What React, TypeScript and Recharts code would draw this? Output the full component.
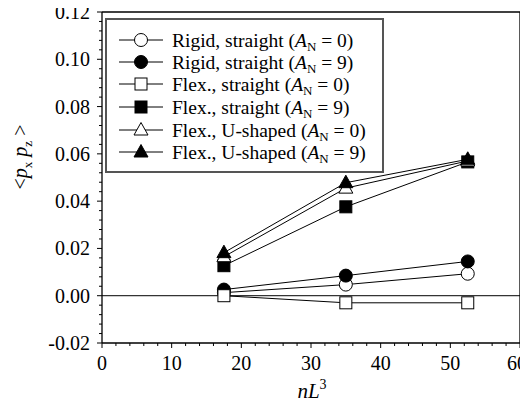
import { Customized, Line, LineChart, ReferenceLine, XAxis, YAxis } from "recharts";

const nL3 = [17.5, 35, 52.5];
const rigidStraightA0 = [0.0013, 0.0047, 0.0093];
const rigidStraightA9 = [0.0026, 0.0085, 0.0145];
const flexStraightA0 = [0.0, -0.003, -0.003];
const flexStraightA9 = [0.0127, 0.0376, 0.0566];
const flexUShapedA0 = [0.0165, 0.0455, 0.057];
const flexUShapedA9 = [0.0182, 0.0478, 0.0577];

const xMajorTicks = [0, 10, 20, 30, 40, 50, 60];
const yMajorTicks = [-0.02, 0.0, 0.02, 0.04, 0.06, 0.08, 0.1, 0.12];

const FONT = "'Liberation Serif', 'Times New Roman', serif";

// minor ticks: 5 subdivisions per major step
const xTicks = Array.from({ length: 31 }, (_, i) => i * 2);
const yTicks = Array.from({ length: 36 }, (_, i) => Math.round((-0.02 + i * 0.004) * 1000) / 1000);

type Marker = "circle" | "square" | "triangle";

const series: { key: string; values: number[]; marker: Marker; filled: boolean; label: string; an: string }[] = [
    { key: "rA0", values: rigidStraightA0, marker: "circle", filled: false, label: "Rigid, straight (", an: "0" },
    { key: "rA9", values: rigidStraightA9, marker: "circle", filled: true, label: "Rigid, straight (", an: "9" },
    { key: "fA0", values: flexStraightA0, marker: "square", filled: false, label: "Flex., straight (", an: "0" },
    { key: "fA9", values: flexStraightA9, marker: "square", filled: true, label: "Flex., straight (", an: "9" },
    { key: "uA0", values: flexUShapedA0, marker: "triangle", filled: false, label: "Flex., U-shaped (", an: "0" },
    { key: "uA9", values: flexUShapedA9, marker: "triangle", filled: true, label: "Flex., U-shaped (", an: "9" },
];

const data = nL3.map((x, i) => {
    const row: Record<string, number> = { x };
    series.forEach(s => { row[s.key] = s.values[i]; });
    return row;
});

function MarkerShape({ cx, cy, marker, filled }: { cx: number; cy: number; marker: Marker; filled: boolean }) {
    const fill = filled ? "#000" : "#fff";
    if (marker === "circle") return <circle cx={cx} cy={cy} r={6.5} fill={fill} stroke="#000" strokeWidth={1} />;
    if (marker === "square") return <rect x={cx - 6} y={cy - 6} width={12} height={12} fill={fill} stroke="#000" strokeWidth={1} />;
    return <polygon points={`${cx},${cy - 7.5} ${cx + 7},${cy + 5} ${cx - 7},${cy + 5}`} fill={fill} stroke="#000" strokeWidth={1} />;
}

const isMajor = (v: number, majors: number[]) => majors.some(m => Math.abs(m - v) < 1e-6);

function XTick(props: any) {
    const { x, y, payload } = props;
    const v = payload.value;
    if (!isMajor(v, xMajorTicks)) return <line x1={x} y1={y} x2={x} y2={y + 3} stroke="#000" />;
    // last label sits against the page edge, like the reference
    const last = v === xMajorTicks[xMajorTicks.length - 1];
    return (
        <g>
            <line x1={x} y1={y} x2={x} y2={y + 5} stroke="#000" />
            <text x={last ? x + 7 : x} y={y + 27} textAnchor={last ? "end" : "middle"} style={{ fontFamily: FONT, fontSize: 20 }} fill="#000">{v}</text>
        </g>
    );
}

function YTick(props: any) {
    const { x, y, payload } = props;
    const v = payload.value;
    if (!isMajor(v, yMajorTicks)) return <line x1={x - 3} y1={y} x2={x} y2={y} stroke="#000" />;
    return (
        <g>
            <line x1={x - 5} y1={y} x2={x} y2={y} stroke="#000" />
            <text x={x - 12} y={y + 7} textAnchor="end" style={{ fontFamily: FONT, fontSize: 20 }} fill="#000">{v.toFixed(2)}</text>
        </g>
    );
}

function LegendBox() {
    const rowY = [40, 62, 84, 107, 130, 152];
    return (
        <g style={{ fontFamily: FONT, fontSize: 19.5 }}>
            <rect x={106} y={19} width={277} height={153} fill="#fff" stroke="#555" strokeWidth={2} />
            {series.map((s, i) => (
                <g key={s.key}>
                    <line x1={119} y1={rowY[i]} x2={163} y2={rowY[i]} stroke="#000" />
                    <MarkerShape cx={141} cy={rowY[i]} marker={s.marker} filled={s.filled} />
                    <text x={172} y={rowY[i] + 6.5} fill="#000">
                        <tspan>{s.label}</tspan>
                        <tspan fontStyle="italic">A</tspan>
                        <tspan fontSize={13} dy={4.5}>N</tspan>
                        <tspan dy={-4.5}>{` = ${s.an})`}</tspan>
                    </text>
                </g>
            ))}
        </g>
    );
}

function AxisTitles() {
    return (
        <g style={{ fontFamily: FONT }} fill="#000">
            <text transform="translate(27, 157) rotate(-90)" textAnchor="middle" fontSize={20}>
                <tspan>{"<"}</tspan>
                <tspan fontStyle="italic">p</tspan>
                <tspan fontSize={13} dy={5}>x</tspan>
                <tspan dy={-5}> </tspan>
                <tspan fontStyle="italic">p</tspan>
                <tspan fontSize={13} dy={5}>z</tspan>
                <tspan dy={-5}>{" >"}</tspan>
            </text>
            <text x={312} y={398} textAnchor="middle" fontSize={21}>
                <tspan fontStyle="italic">nL</tspan>
                <tspan fontSize={14} dy={-9}>3</tspan>
            </text>
        </g>
    );
}

export default function App() {
    return (
        <div style={{ margin: -8 }}>
            <LineChart width={528} height={408} data={data} margin={{ top: 12, right: 8, left: 0, bottom: 0 }}>
                <XAxis
                    type="number"
                    dataKey="x"
                    domain={[0, 60]}
                    ticks={xTicks}
                    interval={0}
                    tickSize={0}
                    tickMargin={0}
                    height={65}
                    tick={XTick}
                    axisLine={{ stroke: "#000", strokeWidth: 1.3 }}
                    tickLine={false}
                />
                <YAxis
                    type="number"
                    domain={[-0.02, 0.12]}
                    ticks={yTicks}
                    interval={0}
                    tickSize={0}
                    tickMargin={0}
                    width={102}
                    tick={YTick}
                    axisLine={{ stroke: "#000", strokeWidth: 1.3 }}
                    tickLine={false}
                />
                <ReferenceLine y={0} stroke="#000" strokeWidth={1} />
                <ReferenceLine y={0.12} stroke="#000" strokeWidth={1.3} />
                <ReferenceLine x={60} stroke="#000" strokeWidth={1.3} />
                {series.map(s => (
                    <Line
                        key={s.key}
                        dataKey={s.key}
                        stroke="#000"
                        strokeWidth={1}
                        isAnimationActive={false}
                        dot={(p: any) => <MarkerShape key={`${s.key}-${p.index}`} cx={p.cx} cy={p.cy} marker={s.marker} filled={s.filled} />}
                        activeDot={false}
                    />
                ))}
                <Customized component={LegendBox} />
                <Customized component={AxisTitles} />
            </LineChart>
        </div>
    );
}
